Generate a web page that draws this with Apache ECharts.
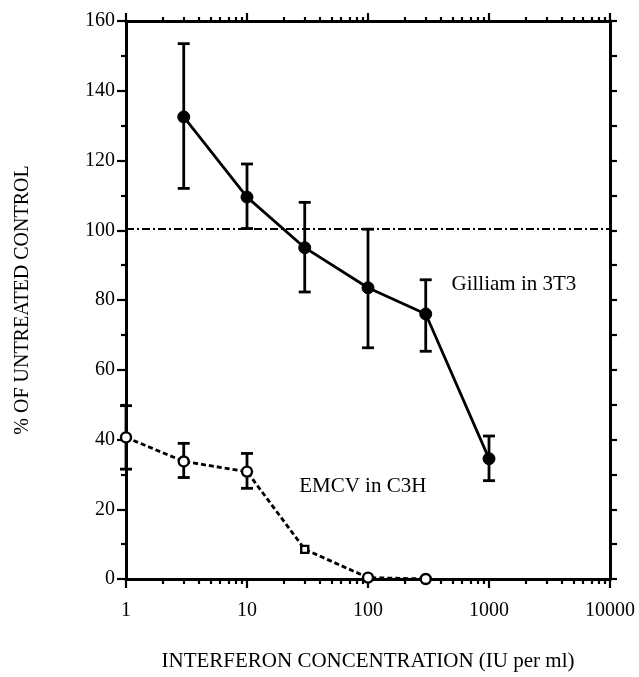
<!DOCTYPE html>
<html>
<head>
<meta charset="utf-8">
<script src="https://cdn.jsdelivr.net/npm/echarts@6/dist/echarts.min.js"></script>
<style>html,body{margin:0;padding:0;background:#fff;}#chart{width:639px;height:677px;}</style>
</head>
<body>
<div id="chart"></div>
<script>
// ---- data ----
var gilliamX = [3, 10, 30, 100, 300, 1000];
var gilliamY = [132.5, 109.5, 95, 83.5, 76, 34.5];
var gilliamLow = [112, 100.5, 82.3, 66.3, 65.3, 28.2];
var gilliamHigh = [153.5, 119, 108, 100.3, 85.8, 41];

var emcvX = [1, 3, 10, 30, 100, 300];
var emcvY = [40.6, 33.7, 30.8, 8.5, 0.4, 0];
var emcvLow = [31.5, 29.1, 26, null, null, null];
var emcvHigh = [49.7, 38.9, 36, null, null, null];
var emcvSymbols = ['circle', 'circle', 'circle', 'rect', 'circle', 'circle'];

var referenceLevel = 100.5;
var yTicks = [0, 20, 40, 60, 80, 100, 120, 140, 160];
var xMajorTicks = [1, 10, 100, 1000, 10000];
var xMinorTicks = [2, 3, 4, 5, 6, 7, 8, 9, 20, 30, 40, 50, 60, 70, 80, 90,
  200, 300, 400, 500, 600, 700, 800, 900, 2000, 3000, 4000, 5000, 6000, 7000, 8000, 9000];

var xTitle = 'INTERFERON CONCENTRATION (IU per ml)';
var yTitle = '% OF UNTREATED CONTROL';
var gilliamLabel = 'Gilliam in 3T3';
var emcvLabel = 'EMCV in C3H';
var gilliamLabelAt = [490, 84.5];
var emcvLabelAt = [27, 26.5];

// ---- build ----
function pairs(xs, ys) { return xs.map(function (x, i) { return [x, ys[i]]; }); }
function errData(xs, lo, hi) {
  var out = [];
  xs.forEach(function (x, i) { if (lo[i] != null) out.push([x, lo[i], hi[i]]); });
  return out;
}
var FONT = '"Liberation Serif", "DejaVu Serif", serif';
var chart = echarts.init(document.getElementById('chart'), null, { renderer: 'canvas' });

function errRender(params, api) {
  var x = api.value(0);
  var lo = api.coord([x, api.value(1)]);
  var hi = api.coord([x, api.value(2)]);
  var w = 6;
  var st = { stroke: '#000', lineWidth: 2.8 };
  return { type: 'group', children: [
    { type: 'line', shape: { x1: lo[0], y1: lo[1], x2: hi[0], y2: hi[1] }, style: st },
    { type: 'line', shape: { x1: lo[0] - w, y1: lo[1], x2: lo[0] + w, y2: lo[1] }, style: st },
    { type: 'line', shape: { x1: hi[0] - w, y1: hi[1], x2: hi[0] + w, y2: hi[1] }, style: st }
  ]};
}

var axisLineStyle = { color: '#000', width: 3 };
var tickStyle = { color: '#000', width: 2.2 };
var option = {
  backgroundColor: '#fff',
  animation: false,
  grid: { left: 126, right: 29, top: 21, bottom: 93, containLabel: false },
  xAxis: [
    { type: 'log', logBase: 10, min: 1, max: 10000, position: 'bottom',
      axisLine: { show: true, lineStyle: axisLineStyle },
      axisTick: { show: true, inside: false, length: 9, lineStyle: tickStyle, customValues: xMajorTicks },
      axisLabel: { show: true, margin: 22, color: '#000', fontFamily: FONT, fontSize: 20, customValues: xMajorTicks, formatter: function (v) { return String(v); } },
      splitLine: { show: false },
      name: xTitle, nameLocation: 'middle', nameGap: 72,
      nameTextStyle: { color: '#000', fontFamily: FONT, fontSize: 21 } },
    { type: 'log', logBase: 10, min: 1, max: 10000, position: 'bottom',
      axisLine: { show: false },
      axisTick: { show: true, inside: false, length: 5, lineStyle: tickStyle, customValues: xMinorTicks },
      axisLabel: { show: false }, splitLine: { show: false } },
    { type: 'log', logBase: 10, min: 1, max: 10000, position: 'top',
      axisLine: { show: true, lineStyle: axisLineStyle },
      axisTick: { show: true, inside: false, length: 8, lineStyle: tickStyle, customValues: xMajorTicks },
      axisLabel: { show: false }, splitLine: { show: false } },
    { type: 'log', logBase: 10, min: 1, max: 10000, position: 'top',
      axisLine: { show: false },
      axisTick: { show: true, inside: false, length: 4, lineStyle: tickStyle, customValues: xMinorTicks },
      axisLabel: { show: false }, splitLine: { show: false } }
  ],
  yAxis: [
    { type: 'value', min: 0, max: 160, interval: 20, position: 'left',
      axisLine: { show: true, lineStyle: axisLineStyle },
      axisTick: { show: true, inside: false, length: 9, lineStyle: tickStyle },
      minorTick: { show: true, splitNumber: 2, length: 5, lineStyle: tickStyle },
      axisLabel: { show: true, margin: 11, color: '#000', fontFamily: FONT, fontSize: 20, customValues: yTicks },
      splitLine: { show: false },
      name: yTitle, nameLocation: 'middle', nameGap: 93, nameRotate: 90,
      nameTextStyle: { color: '#000', fontFamily: FONT, fontSize: 20 } },
    { type: 'value', min: 0, max: 160, interval: 10, position: 'right',
      axisLine: { show: true, lineStyle: axisLineStyle },
      axisTick: { show: true, inside: false, length: 7, lineStyle: tickStyle },
      axisLabel: { show: false }, splitLine: { show: false } }
  ],
  series: [
    { name: 'ref', type: 'line', xAxisIndex: 0, yAxisIndex: 0, data: [], symbol: 'none',
      markLine: { silent: true, symbol: 'none', label: { show: false },
        lineStyle: { color: '#000', width: 2.2, type: [8, 3, 2, 3] },
        data: [{ yAxis: referenceLevel }] } },
    { name: 'gilliamErr', type: 'custom', xAxisIndex: 0, yAxisIndex: 0, renderItem: errRender,
      data: errData(gilliamX, gilliamLow, gilliamHigh), z: 3 },
    { name: 'emcvErr', type: 'custom', xAxisIndex: 0, yAxisIndex: 0, renderItem: errRender,
      data: errData(emcvX, emcvLow, emcvHigh), z: 3 },
    { name: 'Gilliam', type: 'line', xAxisIndex: 0, yAxisIndex: 0, data: pairs(gilliamX, gilliamY),
      symbol: 'circle', symbolSize: 12, showAllSymbol: true,
      lineStyle: { color: '#000', width: 2.8 }, itemStyle: { color: '#000', borderColor: '#000' }, z: 4,
      markPoint: { symbol: 'circle', symbolSize: 0, silent: true,
        label: { show: true, formatter: gilliamLabel, position: 'right', distance: 0, color: '#000', fontFamily: FONT, fontSize: 21 },
        data: [{ coord: gilliamLabelAt }] } },
    { name: 'EMCV', type: 'line', xAxisIndex: 0, yAxisIndex: 0,
      data: emcvX.map(function (x, i) { return { value: [x, emcvY[i]], symbol: emcvSymbols[i], symbolSize: emcvSymbols[i] === 'rect' ? 7 : 10 }; }),
      symbol: 'circle', symbolSize: 10, showAllSymbol: true,
      lineStyle: { color: '#000', width: 2.8, type: [5, 3] },
      itemStyle: { color: '#fff', borderColor: '#000', borderWidth: 2.4 }, z: 4,
      markPoint: { symbol: 'circle', symbolSize: 0, silent: true,
        label: { show: true, formatter: emcvLabel, position: 'right', distance: 0, color: '#000', fontFamily: FONT, fontSize: 21 },
        data: [{ coord: emcvLabelAt }] } }
  ]
};
chart.setOption(option);
</script>
</body>
</html>
